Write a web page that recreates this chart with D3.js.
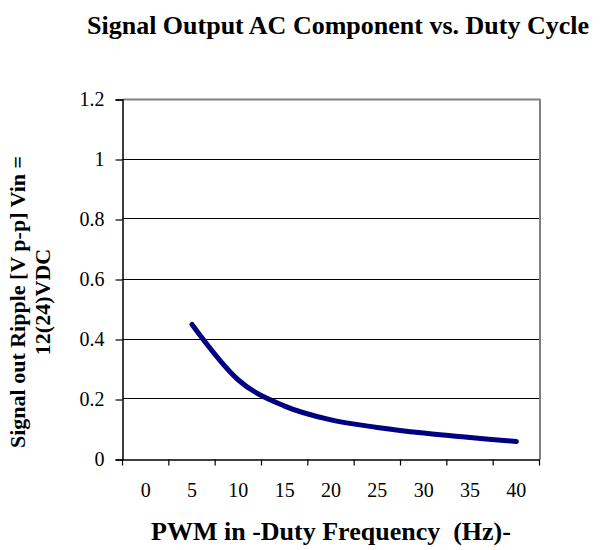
<!DOCTYPE html>
<html>
<head>
<meta charset="utf-8">
<script src="https://cdn.jsdelivr.net/npm/d3@7"></script>
<style>
  html, body { margin: 0; padding: 0; background: #fff; }
  svg { display: block; }
  text { font-family: "Liberation Serif", "Times New Roman", serif; fill: #000; }
</style>
</head>
<body>
<div id="chart"></div>
<script>
// ---- Data ----
const categories = ["0", "5", "10", "15", "20", "25", "30", "35", "40"];
const rippleValues = [null, 0.45, 0.265, 0.178, 0.132, 0.107, 0.088, 0.073, 0.06];
const yTicks = [0, 0.2, 0.4, 0.6, 0.8, 1, 1.2];
const yTickLabels = ["0", "0.2", "0.4", "0.6", "0.8", "1", "1.2"];

const chartTitle = "Signal Output AC Component vs. Duty Cycle";
const xTitle = "PWM in -Duty Frequency  (Hz)-";
const yTitleLines = ["Signal out Ripple [V p-p] Vin =", "12(24)VDC"];

// ---- Layout ----
const W = 605, H = 550;
const plot = { left: 122.5, right: 539.5, top: 99.5, bottom: 459.5 };

const svg = d3.select("#chart").append("svg")
  .attr("width", W).attr("height", H);

const x = d3.scaleBand().domain(categories).range([plot.left, plot.right]).padding(0);
const y = d3.scaleLinear().domain([0, 1.2]).range([plot.bottom, plot.top]);

// gridlines
svg.append("g").selectAll("line")
  .data(yTicks.filter(v => v > 0 && v < 1.2))
  .join("line")
  .attr("x1", plot.left).attr("x2", plot.right)
  .attr("y1", d => Math.round(y(d)) - 0.5).attr("y2", d => Math.round(y(d)) - 0.5)
  .attr("stroke", "#000").attr("stroke-width", 1);

// top and right border (grey)
svg.append("line")
  .attr("x1", plot.left).attr("x2", plot.right + 1)
  .attr("y1", plot.top).attr("y2", plot.top)
  .attr("stroke", "#808080").attr("stroke-width", 2);
svg.append("line")
  .attr("x1", plot.right + 0.5).attr("x2", plot.right + 0.5)
  .attr("y1", plot.top).attr("y2", plot.bottom)
  .attr("stroke", "#808080").attr("stroke-width", 2);

// Y axis
const yAxis = d3.axisLeft(y)
  .tickValues(yTicks)
  .tickFormat((d, i) => yTickLabels[i])
  .tickSize(7).tickPadding(11);
const gy = svg.append("g").attr("transform", `translate(${plot.left},0)`).call(yAxis);
gy.select(".domain").attr("stroke", "#000").attr("stroke-width", 1.5);
gy.selectAll(".tick line").attr("stroke", "#000").attr("stroke-width", 1.2);
gy.selectAll(".tick text")
  .style("font-family", "'Liberation Serif', 'Times New Roman', serif")
  .style("font-size", "20px").attr("fill", "#000");

// X axis: ticks at category boundaries, labels at centers
const xAxis = d3.axisBottom(x).tickSize(0).tickPadding(0);
const gx = svg.append("g").attr("transform", `translate(0,${plot.bottom})`).call(xAxis);
gx.select(".domain").attr("stroke", "#000").attr("stroke-width", 1.5);
gx.selectAll(".tick text")
  .attr("y", 37).attr("dy", 0)
  .style("font-family", "'Liberation Serif', 'Times New Roman', serif")
  .style("font-size", "20px").attr("fill", "#000");
const boundaries = categories.map(c => x(c)).concat([x(categories[categories.length - 1]) + x.bandwidth()]);
svg.append("g").selectAll("line")
  .data(boundaries)
  .join("line")
  .attr("x1", d => d).attr("x2", d => d)
  .attr("y1", plot.bottom).attr("y2", plot.bottom + 6)
  .attr("stroke", "#000").attr("stroke-width", 1.2);

// Series line
const pts = categories.map((c, i) => ({ c, v: rippleValues[i] })).filter(d => d.v != null);
const line = d3.line()
  .x(d => x(d.c) + x.bandwidth() / 2)
  .y(d => y(d.v))
  .curve(d3.curveCatmullRom.alpha(0));
svg.append("path")
  .datum(pts)
  .attr("d", line)
  .attr("fill", "none")
  .attr("stroke", "#000080")
  .attr("stroke-width", 5)
  .attr("stroke-linecap", "round")
  .attr("stroke-linejoin", "round");

// Title
svg.append("text")
  .attr("x", 338).attr("y", 34)
  .attr("text-anchor", "middle")
  .style("font-size", "26px").style("font-weight", "bold")
  .text(chartTitle);

// X title
svg.append("text")
  .attr("x", (plot.left + plot.right) / 2).attr("y", 540)
  .attr("text-anchor", "middle")
  .style("font-size", "26px").style("font-weight", "bold")
  .style("white-space", "pre")
  .text(xTitle);

// Y title (two lines, rotated)
const yt = svg.append("text")
  .attr("transform", "translate(0,302) rotate(-90)")
  .attr("text-anchor", "middle")
  .style("font-size", "22px").style("font-weight", "bold");
yt.append("tspan").attr("x", 0).attr("y", 25).text(yTitleLines[0]);
yt.append("tspan").attr("x", 0).attr("y", 50).text(yTitleLines[1]);
</script>
</body>
</html>
